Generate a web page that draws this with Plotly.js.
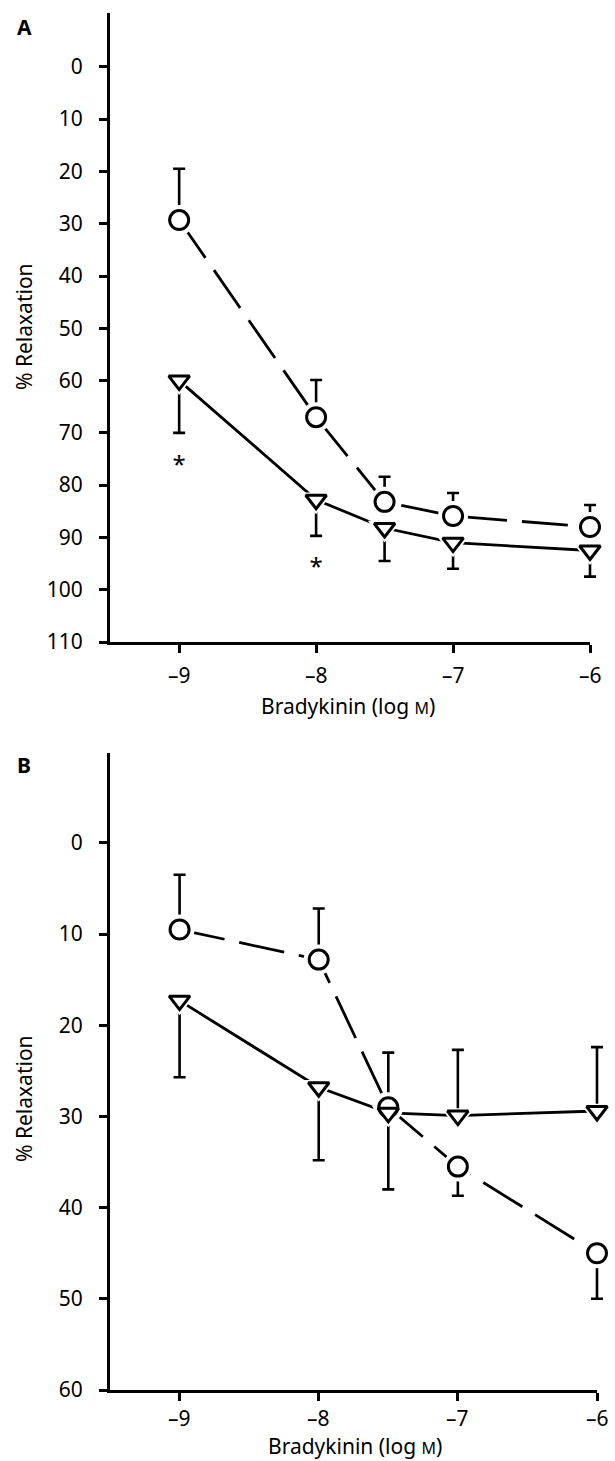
<!DOCTYPE html>
<html>
<head>
<meta charset="utf-8">
<script src="https://cdn.plot.ly/plotly-3.0.1.min.js"></script>
<style>html,body{margin:0;padding:0;background:#fff;}#chart{width:615px;height:1461px;}</style>
</head>
<body>
<div id="chart"></div>
<script>
// ---- data ----
var doses = [-9, -8, -7.5, -7, -6];
var xTickVals = [-9, -8, -7, -6];
var xTickText = ['\u20139', '\u20138', '\u20137', '\u20136'];
var yTickValsA = [0, 10, 20, 30, 40, 50, 60, 70, 80, 90, 100, 110];
var yTickValsB = [0, 10, 20, 30, 40, 50, 60];
var xTitle = 'Bradykinin (log <span style="font-size:16px">M</span>)';
var yTitle = '% Relaxation';

// Panel A
var A_circle = [29.3, 67.0, 83.2, 85.9, 88.0];
var A_circle_errUp = [9.8, 7.1, 4.8, 4.4, 4.2];
var A_circle_errDown = [0, 0, 0, 0, 0];
var A_tri = [60.0, 82.8, 88.2, 91.0, 92.5];
var A_tri_errUp = [0, 0, 0, 0, 0];
var A_tri_errDown = [10.0, 6.9, 6.3, 5.0, 5.0];
var A_sigX = [-9, -8];
var A_sigY = [76.5, 96.0];

// Panel B
var B_circle = [9.5, 12.8, 29.0, 35.5, 45.0];
var B_circle_errUp = [6.0, 5.6, 6.0, 0, 0];
var B_circle_errDown = [0, 0, 0, 3.2, 5.0];
var B_tri = [17.3, 26.8, 29.6, 29.9, 29.4];
var B_tri_errUp = [0, 0, 0, 7.2, 7.0];
var B_tri_errDown = [8.4, 8.0, 8.4, 0, 0];

var FONT = 'Noto Sans, Open Sans, Arial, sans-serif';
var FS = 21;
var LW = 2.8;

function lineTrace(xa, ya, y, up, down, dash) {
  return {
    type: 'scatter', mode: 'lines', x: doses, y: y, xaxis: xa, yaxis: ya,
    line: {color: '#000', width: LW, dash: dash},
    error_y: {type: 'data', symmetric: false, array: down, arrayminus: up,
              color: '#000', thickness: 2.6, width: 6},
    cliponaxis: false, showlegend: false, hoverinfo: 'skip'
  };
}
function markerTrace(xa, ya, y, sym, size, halo) {
  return {
    type: 'scatter', mode: 'markers', x: doses, y: y, xaxis: xa, yaxis: ya,
    marker: halo ? {symbol: sym, size: size + 11, color: '#fff', line: {width: 0}}
                 : {symbol: sym, size: size, color: '#fff', line: {color: '#000', width: 3}},
    cliponaxis: false, showlegend: false, hoverinfo: 'skip'
  };
}

var CS = 19, TS = 18;
var data = [
  // panel A drawn on a slightly wider hidden x axis (same scale) so nothing is clipped at x = -6
  lineTrace('x3', 'y', A_circle, A_circle_errUp, A_circle_errDown, '46px,15px'),
  lineTrace('x3', 'y', A_tri, A_tri_errUp, A_tri_errDown, 'solid'),
  markerTrace('x3', 'y', A_circle, 'circle', CS, true),
  markerTrace('x3', 'y', A_tri, 'triangle-down', TS, true),
  markerTrace('x3', 'y', A_circle, 'circle', CS, false),
  markerTrace('x3', 'y', A_tri, 'triangle-down', TS, false),
  {type: 'scatter', mode: 'text', x: A_sigX, y: A_sigY, text: ['*', '*'], xaxis: 'x', yaxis: 'y',
   textfont: {family: FONT, size: 24, color: '#000'}, cliponaxis: false, showlegend: false, hoverinfo: 'skip'},

  lineTrace('x4', 'y2', B_circle, B_circle_errUp, B_circle_errDown, '46px,15px'),
  lineTrace('x4', 'y2', B_tri, B_tri_errUp, B_tri_errDown, 'solid'),
  markerTrace('x4', 'y2', B_circle, 'circle', CS, true),
  markerTrace('x4', 'y2', B_tri, 'triangle-down', TS, true),
  markerTrace('x4', 'y2', B_circle, 'circle', CS, false),
  markerTrace('x4', 'y2', B_tri, 'triangle-down', TS, false),
  {type: 'scatter', mode: 'markers', x: [-9], y: [200], xaxis: 'x2', yaxis: 'y2',
   marker: {size: 1, color: 'rgba(0,0,0,0)'}, showlegend: false, hoverinfo: 'skip'}
];

var W = 615, H = 1461;
var L = 110, RA = 590, RB = 597, RWIDE = 612;
var xRangeA = [-9.505, -6], xRangeB = [-9.50, -6];
function widen(range, left, right) {
  var ppu = (right - left) / (range[1] - range[0]);
  return [range[0], range[0] + (RWIDE - left) / ppu];
}
function xAxis(domain, range, anchor) {
  return {
    domain: domain, range: range, anchor: anchor, autorange: false,
    showline: true, linecolor: '#000', linewidth: 3, mirror: false,
    showgrid: false, zeroline: false,
    ticks: 'outside', ticklen: 8, tickwidth: 3, tickcolor: '#000',
    tickmode: 'array', tickvals: xTickVals, ticktext: xTickText,
    showticklabels: false
  };
}
function hiddenX(range, anchor) {
  return {domain: [L / W, RWIDE / W], range: range, anchor: anchor, autorange: false,
          visible: false, showgrid: false, zeroline: false, fixedrange: true};
}
function yAxis(domain, range, anchor, vals) {
  return {
    domain: domain, range: range, anchor: anchor, autorange: false,
    showline: true, linecolor: '#000', linewidth: 3,
    showgrid: false, zeroline: false,
    ticks: 'outside', ticklen: 8, tickwidth: 3, tickcolor: '#000',
    tickmode: 'array', tickvals: vals, ticktext: vals.map(String),
    ticklabelstandoff: 12,
    tickfont: {family: FONT, size: FS, color: '#000'}
  };
}
function note(text, x, y, extra) {
  var a = {text: text, xref: 'paper', yref: 'paper', x: x / W, y: 1 - y / H,
           showarrow: false, font: {family: FONT, size: FS, color: '#000'},
           xanchor: 'center', yanchor: 'middle'};
  for (var k in extra) a[k] = extra[k];
  return a;
}

var annotations = [
  note('<b>A</b>', 24, 27),
  note('<b>B</b>', 24, 765),
  note(yTitle, 24, 327, {textangle: -90}),
  note(yTitle, 24, 1099, {textangle: -90}),
  note(xTitle, 348, 706),
  note(xTitle, 355, 1446)
];
// x tick labels, placed at the tick values of each x axis
xTickVals.forEach(function (v, i) {
  annotations.push(note(xTickText[i], 0, 675, {xref: 'x', x: v}));
  annotations.push(note(xTickText[i], 0, 1418, {xref: 'x2', x: v}));
});

var layout = {
  width: W, height: H,
  margin: {l: 0, r: 0, t: 0, b: 0},
  paper_bgcolor: '#fff', plot_bgcolor: 'rgba(0,0,0,0)',
  showlegend: false,
  xaxis: xAxis([L / W, RA / W], xRangeA, 'y'),
  yaxis: yAxis([1 - 642 / H, 1 - 13 / H], [110, -10.3], 'x', yTickValsA),
  xaxis2: xAxis([L / W, RB / W], xRangeB, 'y2'),
  yaxis2: yAxis([1 - 1390 / H, 1 - 753 / H], [60, -9.86], 'x2', yTickValsB),
  xaxis3: hiddenX(widen(xRangeA, L, RA), 'y'),
  xaxis4: hiddenX(widen(xRangeB, L, RB), 'y2'),
  annotations: annotations
};

Plotly.newPlot('chart', data, layout, {staticPlot: true, displayModeBar: false});
</script>
</body>
</html>
